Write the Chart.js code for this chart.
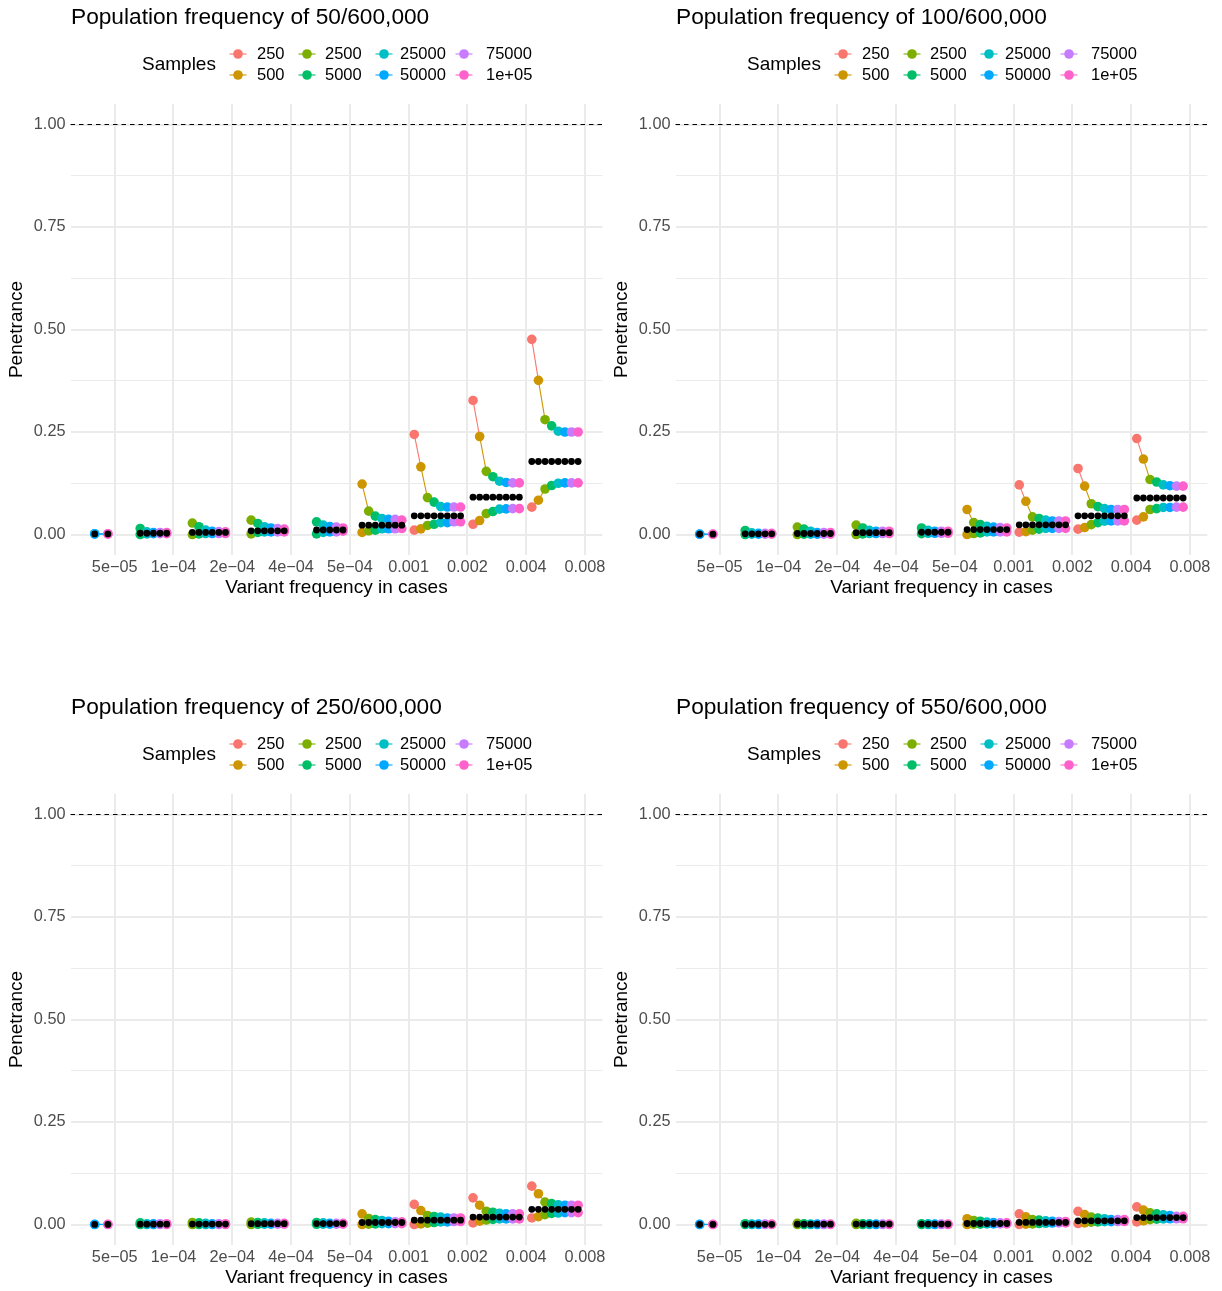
<!DOCTYPE html>
<html>
<head>
<meta charset="utf-8">
<title>Penetrance by variant frequency</title>
<script src="https://cdn.jsdelivr.net/npm/chart.js@4"></script>
<style>
body { margin: 0; background: #fff; }
#wrap { position: relative; width: 1222px; height: 1291px; }
canvas { position: absolute; }
</style>
</head>
<body>
<div id="wrap">
  <canvas id="p1" width="611" height="600" style="left:0;top:0"></canvas>
  <canvas id="p2" width="611" height="600" style="left:605px;top:0"></canvas>
  <canvas id="p3" width="611" height="600" style="left:0;top:690px"></canvas>
  <canvas id="p4" width="611" height="600" style="left:605px;top:690px"></canvas>
</div>
<script>
// sample sizes (legend) and ggplot hue colours
var samples = ['250', '500', '2500', '5000', '25000', '50000', '75000', '1e+05'];
var sampleColors = ['#F8766D', '#CD9600', '#7CAE00', '#00BE67', '#00BFC4', '#00A9FF', '#C77CFF', '#FF61CC'];
var freqLabels = ['5e\u221205', '1e\u221204', '2e\u221204', '4e\u221204', '5e\u221204', '0.001', '0.002', '0.004', '0.008'];
var yLabels = [0, 0.25, 0.5, 0.75, 1];
var refLine = 1;
var _ = null;

// 50/600,000  (one row per frequency group, one column per sample size)
var upper50 = [
    [_, _, _, _, _, 0.002, _, 0.002],
    [_, _, _, 0.0146, 0.0065, 0.005, 0.005, 0.0045],
    [_, _, 0.028, 0.019, 0.0106, 0.008, 0.007, 0.0065],
    [_, _, 0.035, 0.027, 0.019, 0.016, 0.0146, 0.013],
    [_, _, _, 0.031, 0.023, 0.0195, 0.018, 0.016],
    [_, 0.123, 0.057, 0.0447, 0.039, 0.037, 0.037, 0.035],
    [0.244, 0.165, 0.090, 0.079, 0.068, 0.067, 0.067, 0.067],
    [0.327, 0.239, 0.154, 0.141, 0.130, 0.127, 0.126, 0.126],
    [0.476, 0.376, 0.280, 0.265, 0.252, 0.250, 0.250, 0.250]
];
var lower50 = [
    [_, _, _, _, _, 0.001, _, 0.001],
    [_, _, _, 0.0, 0.0016, 0.002, 0.002, 0.002],
    [_, _, 0.0, 0.0016, 0.0024, 0.0024, 0.0024, 0.0024],
    [_, _, 0.0016, 0.005, 0.0065, 0.0065, 0.0065, 0.0065],
    [_, _, _, 0.0016, 0.005, 0.0065, 0.0065, 0.008],
    [_, 0.005, 0.009, 0.0106, 0.014, 0.014, 0.014, 0.0146],
    [0.0106, 0.0138, 0.022, 0.025, 0.029, 0.029, 0.031, 0.031],
    [0.025, 0.034, 0.051, 0.056, 0.062, 0.0626, 0.063, 0.063],
    [0.0667, 0.0837, 0.111, 0.1195, 0.125, 0.126, 0.126, 0.126]
];
var true50 = [0.0015, 0.003, 0.005, 0.009, 0.011, 0.0228, 0.0455, 0.091, 0.178];

// 100/600,000
var upper100 = [
    [_, _, _, _, _, 0.001, _, 0.001],
    [_, _, _, 0.0098, 0.004, 0.003, 0.003, 0.003],
    [_, _, 0.018, 0.013, 0.008, 0.005, 0.005, 0.005],
    [_, _, 0.023, 0.016, 0.010, 0.008, 0.008, 0.008],
    [_, _, _, 0.016, 0.010, 0.008, 0.008, 0.008],
    [_, 0.061, 0.029, 0.024, 0.020, 0.018, 0.017, 0.016],
    [0.121, 0.081, 0.043, 0.039, 0.035, 0.033, 0.033, 0.033],
    [0.161, 0.118, 0.075, 0.068, 0.063, 0.061, 0.061, 0.061],
    [0.234, 0.184, 0.134, 0.128, 0.121, 0.119, 0.118, 0.118]
];
var lower100 = [
    [_, _, _, _, _, 0.0005, _, 0.0005],
    [_, _, _, 0.0, 0.0008, 0.001, 0.001, 0.001],
    [_, _, 0.0, 0.0008, 0.001, 0.001, 0.001, 0.001],
    [_, _, 0.0, 0.0016, 0.0024, 0.0024, 0.0024, 0.0024],
    [_, _, _, 0.002, 0.003, 0.003, 0.003, 0.003],
    [_, 0.0, 0.0024, 0.004, 0.0065, 0.0065, 0.0065, 0.0065],
    [0.0057, 0.007, 0.0106, 0.013, 0.015, 0.015, 0.015, 0.015],
    [0.013, 0.017, 0.024, 0.029, 0.0325, 0.033, 0.033, 0.033],
    [0.035, 0.043, 0.061, 0.063, 0.066, 0.066, 0.0667, 0.0667]
];
var true100 = [0.0008, 0.0016, 0.0024, 0.0045, 0.0055, 0.012, 0.0236, 0.0455, 0.089];

// 250/600,000
var upper250 = [
    [_, _, _, _, _, 0.0005, _, 0.0005],
    [_, _, _, 0.004, 0.002, 0.002, 0.002, 0.002],
    [_, _, 0.005, 0.004, 0.003, 0.002, 0.002, 0.002],
    [_, _, 0.006, 0.005, 0.004, 0.003, 0.003, 0.003],
    [_, _, _, 0.005, 0.004, 0.003, 0.003, 0.003],
    [_, 0.026, 0.0146, 0.012, 0.0098, 0.008, 0.0065, 0.0065],
    [0.049, 0.034, 0.022, 0.0195, 0.018, 0.016, 0.016, 0.016],
    [0.065, 0.047, 0.0325, 0.030, 0.0276, 0.026, 0.026, 0.026],
    [0.0935, 0.075, 0.0545, 0.051, 0.048, 0.047, 0.047, 0.047]
];
var lower250 = [
    [_, _, _, _, _, 0.0, _, 0.0],
    [_, _, _, 0.0, 0.0, 0.0, 0.0, 0.0],
    [_, _, 0.0, 0.0, 0.0, 0.0, 0.0, 0.0],
    [_, _, 0.0, 0.0005, 0.001, 0.001, 0.001, 0.001],
    [_, _, _, 0.0005, 0.001, 0.001, 0.001, 0.001],
    [_, 0.0, 0.001, 0.0016, 0.002, 0.002, 0.002, 0.002],
    [0.0, 0.0016, 0.0033, 0.0049, 0.0065, 0.0065, 0.0073, 0.0073],
    [0.004, 0.008, 0.011, 0.0125, 0.0135, 0.0135, 0.0135, 0.0135],
    [0.016, 0.019, 0.024, 0.027, 0.028, 0.029, 0.029, 0.029]
];
var true250 = [0.0003, 0.0007, 0.001, 0.002, 0.0022, 0.0049, 0.0106, 0.018, 0.037];

// 550/600,000
var upper550 = [
    [_, _, _, _, _, 0.0003, _, 0.0003],
    [_, _, _, 0.002, 0.001, 0.001, 0.001, 0.001],
    [_, _, 0.003, 0.002, 0.001, 0.001, 0.001, 0.001],
    [_, _, 0.003, 0.002, 0.0015, 0.001, 0.001, 0.001],
    [_, _, _, 0.002, 0.0015, 0.001, 0.001, 0.001],
    [_, 0.014, 0.0098, 0.008, 0.006, 0.005, 0.004, 0.004],
    [0.026, 0.0187, 0.012, 0.0106, 0.009, 0.008, 0.0073, 0.0073],
    [0.032, 0.024, 0.018, 0.0155, 0.014, 0.012, 0.012, 0.012],
    [0.043, 0.035, 0.0285, 0.026, 0.0235, 0.022, 0.020, 0.020]
];
var lower550 = [
    [_, _, _, _, _, 0.0, _, 0.0],
    [_, _, _, 0.0, 0.0, 0.0, 0.0, 0.0],
    [_, _, 0.0, 0.0, 0.0, 0.0, 0.0, 0.0],
    [_, _, 0.0, 0.0, 0.0, 0.0, 0.0, 0.0],
    [_, _, _, 0.0, 0.0, 0.0, 0.0, 0.0],
    [_, 0.0, 0.0008, 0.001, 0.0016, 0.0016, 0.0016, 0.0016],
    [0.0, 0.0008, 0.0016, 0.0024, 0.003, 0.0035, 0.004, 0.004],
    [0.0024, 0.004, 0.0057, 0.0065, 0.007, 0.007, 0.0073, 0.0073],
    [0.0065, 0.009, 0.012, 0.013, 0.0135, 0.014, 0.014, 0.014]
];
var true550 = [0.0002, 0.0005, 0.0007, 0.001, 0.001, 0.0024, 0.005, 0.009, 0.017];

var panels = [
    { id: 'p1', title: 'Population frequency of 50/600,000', upper: upper50, lower: lower50, truth: true50 },
    { id: 'p2', title: 'Population frequency of 100/600,000', upper: upper100, lower: lower100, truth: true100 },
    { id: 'p3', title: 'Population frequency of 250/600,000', upper: upper250, lower: lower250, truth: true250 },
    { id: 'p4', title: 'Population frequency of 550/600,000', upper: upper550, lower: lower550, truth: true550 }
];

var FONT = '"Liberation Sans", Arial, sans-serif';
Chart.defaults.font.family = FONT;

// dodge inside each frequency group
var groupOffset = 0.096;
var dodgeStep = 0.1126;

function xPos(g, i) {
    return g + groupOffset + i * dodgeStep;
}

function boundPoints(values) {
    var pts = [];
    for (var g = 0; g < values.length; g++) {
        for (var i = 0; i < values[g].length; i++) {
            if (values[g][i] !== null) pts.push({ x: xPos(g, i), y: values[g][i], s: i });
        }
        pts.push({ x: g + 0.99, y: null, s: 0 }); // break the line between groups
    }
    return pts;
}

function truthPoints(values, truth) {
    var pts = [];
    for (var g = 0; g < values.length; g++) {
        for (var i = 0; i < values[g].length; i++) {
            if (values[g][i] !== null) pts.push({ x: xPos(g, i), y: truth[g], s: i });
        }
    }
    return pts;
}

function boundDataset(pts, order) {
    return {
        data: pts,
        order: order,
        showLine: true,
        spanGaps: false,
        borderWidth: 1.1,
        borderColor: '#999',
        segment: {
            borderColor: function (ctx) { return sampleColors[pts[ctx.p0DataIndex].s]; }
        },
        pointRadius: 4.8,
        pointBorderWidth: 0,
        pointBackgroundColor: function (ctx) { return ctx.raw ? sampleColors[ctx.raw.s] : '#000'; }
    };
}

var decor = {
    id: 'decor',
    beforeDatasetsDraw: function (chart) {
        var ctx = chart.ctx, a = chart.chartArea;
        var y = chart.scales.y.getPixelForValue(refLine);
        ctx.save();
        ctx.strokeStyle = '#000';
        ctx.lineWidth = 1.1;
        ctx.setLineDash([4.5, 4]);
        ctx.beginPath();
        ctx.moveTo(a.left, y);
        ctx.lineTo(a.right, y);
        ctx.stroke();
        ctx.restore();
    },
    afterDraw: function (chart) {
        var ctx = chart.ctx;
        var opt = chart.options.plugins.decor;
        ctx.save();
        ctx.fillStyle = '#000';
        ctx.textBaseline = 'alphabetic';
        ctx.font = '22.7px ' + FONT;
        ctx.fillText(opt.title, 71, 24);

        // legend: title on the left, 2 rows x 4 columns, filled column by column
        ctx.textBaseline = 'middle';
        ctx.font = '19px ' + FONT;
        ctx.fillText('Samples', 142, 65);
        var keyX = [238, 307, 384, 464];
        var textX = [257, 325, 400, 486];
        var rowY = [54, 75];
        ctx.font = '16.5px ' + FONT;
        for (var k = 0; k < samples.length; k++) {
            var c = Math.floor(k / 2), r = k % 2;
            ctx.strokeStyle = sampleColors[k];
            ctx.lineWidth = 1.1;
            ctx.beginPath();
            ctx.moveTo(keyX[c] - 8.5, rowY[r]);
            ctx.lineTo(keyX[c] + 8.5, rowY[r]);
            ctx.stroke();
            ctx.fillStyle = sampleColors[k];
            ctx.beginPath();
            ctx.arc(keyX[c], rowY[r], 4.8, 0, Math.PI * 2);
            ctx.fill();
            ctx.fillStyle = '#000';
            ctx.fillText(samples[k], textX[c], rowY[r]);
        }
        ctx.restore();
    }
};

function makePanel(p) {
    var up = boundPoints(p.upper);
    var lo = boundPoints(p.lower);
    var tr = truthPoints(p.upper, p.truth);

    // ggplot style 5% expansion of the data range
    var xs = tr.map(function (d) { return d.x; });
    var xMin = Math.min.apply(null, xs), xMax = Math.max.apply(null, xs);
    var ys = [refLine];
    up.concat(lo).forEach(function (d) { if (d.y !== null) ys.push(d.y); });
    var yMin = Math.min.apply(null, ys), yMax = Math.max.apply(null, ys);
    var xPad = (xMax - xMin) * 0.05, yPad = (yMax - yMin) * 0.05;

    new Chart(document.getElementById(p.id), {
        type: 'line',
        data: {
            datasets: [
                {
                    data: tr,
                    order: 0,
                    showLine: false,
                    pointRadius: 3.4,
                    pointBorderWidth: 0,
                    pointBackgroundColor: '#000'
                },
                boundDataset(up, 1),
                boundDataset(lo, 2)
            ]
        },
        options: {
            responsive: false,
            animation: false,
            events: [],
            layout: { padding: { top: 104, left: 0, right: 8.7, bottom: 0 } },
            plugins: {
                legend: { display: false },
                tooltip: { enabled: false },
                decor: { title: p.title }
            },
            scales: {
                x: {
                    type: 'linear',
                    min: xMin - xPad,
                    max: xMax + xPad,
                    afterBuildTicks: function (s) {
                        s.ticks = freqLabels.map(function (l, i) { return { value: i + 1 }; });
                    },
                    afterFit: function (s) { s.height = 45; },
                    border: { display: false },
                    grid: { color: '#EBEBEB', lineWidth: 2, drawTicks: false },
                    ticks: {
                        autoSkip: false,
                        maxRotation: 0,
                        padding: 3,
                        color: '#4D4D4D',
                        font: { size: 16.3 },
                        callback: function (v) { return freqLabels[Math.round(v) - 1]; }
                    },
                    title: {
                        display: true,
                        text: 'Variant frequency in cases',
                        color: '#000',
                        font: { size: 19 },
                        padding: { top: 0, bottom: 0.6 }
                    }
                },
                y: {
                    min: yMin - yPad,
                    max: yMax + yPad,
                    afterBuildTicks: function (s) {
                        var t = [];
                        for (var v = 0; v <= 8; v++) t.push({ value: v * 0.125 });
                        s.ticks = t;
                    },
                    afterFit: function (s) { s.width = 70.5; },
                    border: { display: false },
                    grid: {
                        color: '#EBEBEB',
                        drawTicks: false,
                        lineWidth: function (ctx) { return yLabels.indexOf(ctx.tick.value) >= 0 ? 2 : 1; }
                    },
                    ticks: {
                        padding: 5,
                        color: '#4D4D4D',
                        font: { size: 16.3 },
                        callback: function (v) { return yLabels.indexOf(v) >= 0 ? v.toFixed(2) : ''; }
                    },
                    title: {
                        display: true,
                        text: 'Penetrance',
                        color: '#000',
                        font: { size: 19 },
                        padding: { top: 5.6, bottom: 0 }
                    }
                }
            }
        },
        plugins: [decor]
    });
}

panels.forEach(makePanel);
</script>
</body>
</html>
